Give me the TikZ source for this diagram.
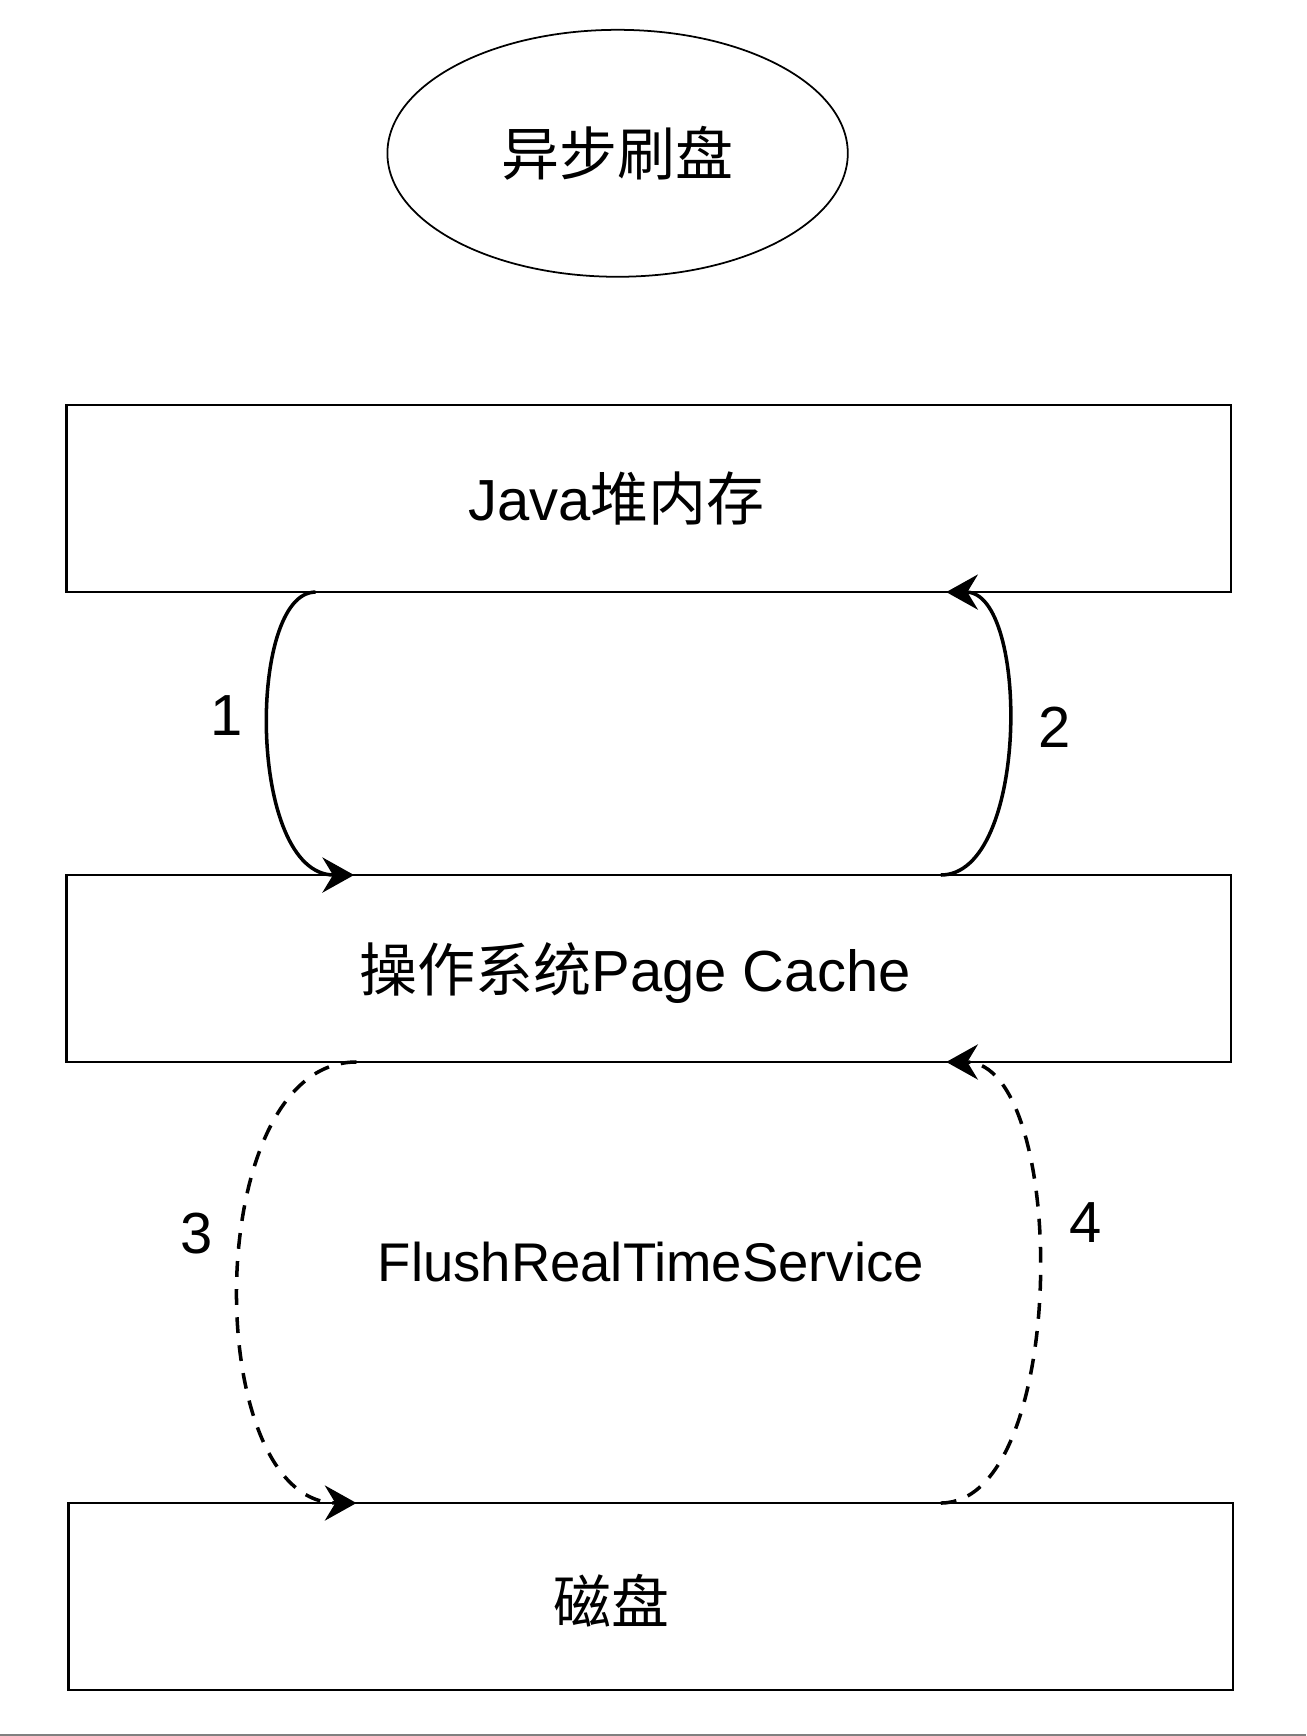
\documentclass[tikz,border=0pt]{standalone}
\usepackage{fontspec}
\setmainfont{Liberation Sans}
\newfontfamily\cjk{Noto Sans CJK SC}
\usetikzlibrary{arrows.meta,shapes.geometric}

\tikzset{
  box/.style={draw, rectangle, line width=1.4pt, outer sep=0pt, inner sep=0pt, minimum width=23.29cm, minimum height=3.74cm},
  lbl/.style={font=\fontsize{33}{40}\selectfont, inner sep=0pt},
  flow/.style={-{Stealth[length=18pt,width=20pt,inset=6pt]}, line width=2pt},
  flowd/.style={flow, dash pattern=on 9pt off 7pt},
}

\begin{document}
\begin{tikzpicture}[x=0.02cm, y=-0.02cm]
  \useasboundingbox (0,0) rectangle (1306,1736);
  \node [draw, ellipse, lbl, line width=1pt, minimum width=9.21cm, minimum height=4.94cm](title) at (617.6,153.3) {\cjk 异步刷盘};
  \node [box](java) at (648.6,498.6) {};
  \node [box](page) at (648.6,968.5) {};
  \node [box](disk) at (650.8,1596.5) {};
  \node [lbl](javatxt) at ([xshift=-6.4mm]java.center) {Java{\cjk 堆内存}};
  \node [lbl](pagetxt) at ([xshift=-2.7mm, yshift=-0.9mm]page.center) {{\cjk 操作系统}Page Cache};
  \node [lbl](disktxt) at ([xshift=-7.8mm, yshift=-0.9mm]disk.center) {\cjk 磁盘};
  \node [lbl, font=\fontsize{31}{37}\selectfont](flush) at (650.8,1261.7) {FlushRealTimeService};
  \draw [flow] ([xshift=-6.664cm]java.south) .. controls +(-68.4,0) and +(-107,0) .. ([xshift=-5.892cm]page.north);
  \draw [flow] ([xshift=5.844cm]page.north) .. controls +(88.7,0) and +(83.2,0) .. ([xshift=5.954cm]java.south);
  \draw [flowd] ([xshift=-5.844cm]page.south) .. controls +(-156.5,0) and +(-156.5,0) .. ([xshift=-5.888cm]disk.north);
  \draw [flowd] ([xshift=5.8cm]disk.north) .. controls +(128.7,0) and +(123.2,0) .. ([xshift=5.954cm]page.south);
  \node [lbl](n1) at (227,716) {1};
  \node [lbl](n2) at (1055,727) {2};
  \node [lbl](n3) at (197,1234) {3};
  \node [lbl](n4) at (1086,1223) {4};
  \draw [black!50, line width=0.05cm] (0,1735) -- (1306,1735);
\end{tikzpicture}
\end{document}
